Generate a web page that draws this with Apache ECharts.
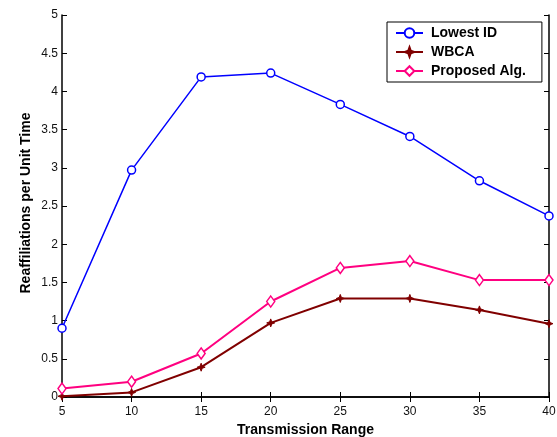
<!DOCTYPE html>
<html>
<head>
<meta charset="utf-8">
<script src="https://cdn.jsdelivr.net/npm/echarts@6/dist/echarts.min.js"></script>
<style>
  html, body { margin: 0; padding: 0; background: #fff; }
  #chart { width: 557px; height: 437px; }
</style>
</head>
<body>
<div id="chart"></div>
<script>
// Transmission range values on the x axis
const ranges = [5, 10, 15, 20, 25, 30, 35, 40];

// Reaffiliations per unit time for each clustering scheme
const lowestId = [0.90, 2.97, 4.19, 4.24, 3.83, 3.41, 2.83, 2.37];
const wbca     = [0.01, 0.06, 0.39, 0.97, 1.29, 1.29, 1.14, 0.96];
const proposed = [0.11, 0.20, 0.57, 1.25, 1.69, 1.78, 1.53, 1.53];

const seriesNames = ['Lowest ID', 'WBCA', 'Proposed Alg.'];

const FONT = '"Liberation Sans", Arial, Helvetica, sans-serif';
const AXIS_COLOR = '#000';

function pairs(values) {
  return ranges.map((x, i) => [x, values[i]]);
}

const starPath = 'path://M0,-6 L1.6,-1.6 L6,0 L1.6,1.6 L0,6 L-1.6,1.6 L-6,0 L-1.6,-1.6 Z';

const chart = echarts.init(document.getElementById('chart'), null, { renderer: 'canvas' });

const baseAxisLine = { show: true, lineStyle: { color: AXIS_COLOR, width: 1.5 } };
const tickInside = { show: true, inside: true, length: 5, lineStyle: { color: AXIS_COLOR, width: 1 } };

chart.setOption({
  animation: false,
  backgroundColor: '#fff',
  grid: { left: 62, right: 8, top: 15, bottom: 40, containLabel: false, outerBoundsMode: 'none' },
  xAxis: [
    {
      type: 'value', min: 5, max: 40, interval: 5, position: 'bottom',
      axisLine: baseAxisLine, axisTick: tickInside, splitLine: { show: false },
      axisLabel: { color: '#111', fontFamily: FONT, fontSize: 12, margin: 9 },
      name: 'Transmission Range', nameLocation: 'middle', nameGap: 26,
      nameTextStyle: { color: '#000', fontFamily: FONT, fontSize: 14, fontWeight: 'bold' }
    },
    {
      type: 'value', min: 5, max: 40, interval: 5, position: 'top',
      axisLine: baseAxisLine, axisTick: tickInside, splitLine: { show: false },
      axisLabel: { show: false }
    }
  ],
  yAxis: [
    {
      type: 'value', min: 0, max: 5, interval: 0.5, position: 'left',
      axisLine: baseAxisLine, axisTick: tickInside, splitLine: { show: false },
      axisLabel: { color: '#111', fontFamily: FONT, fontSize: 12, margin: 4 }
    },
    {
      type: 'value', min: 0, max: 5, interval: 0.5, position: 'right',
      axisLine: baseAxisLine, axisTick: tickInside, splitLine: { show: false },
      axisLabel: { show: false }
    }
  ],
  legend: {
    orient: 'vertical',
    left: 387, top: 22,
    data: seriesNames,
    backgroundColor: '#fff',
    borderColor: '#000', borderWidth: 1,
    padding: [4, 16, 4, 8],
    itemWidth: 27, itemHeight: 12, itemGap: 5,
    textStyle: { color: '#000', fontFamily: FONT, fontSize: 14, fontWeight: 'bold', padding: [0, 0, 0, 3] }
  },
  graphic: [
    {
      type: 'text',
      x: 26, y: 203,
      rotation: Math.PI / 2,
      style: {
        text: 'Reaffiliations per Unit Time',
        fill: '#000',
        font: 'bold 14px ' + FONT,
        align: 'center', verticalAlign: 'middle'
      }
    }
  ],
  series: [
    {
      name: seriesNames[0], type: 'line', data: pairs(lowestId),
      color: '#0000ff',
      lineStyle: { color: '#0000ff', width: 1.5 },
      symbol: 'circle', symbolSize: 8,
      itemStyle: { color: '#fff', borderColor: '#0000ff', borderWidth: 1.5 },
      emphasis: { disabled: true }, z: 3
    },
    {
      name: seriesNames[1], type: 'line', data: pairs(wbca),
      color: '#800000',
      lineStyle: { color: '#800000', width: 2 },
      symbol: starPath, symbolSize: 8,
      itemStyle: { color: '#800000', borderColor: '#800000', borderWidth: 1 },
      emphasis: { disabled: true }, z: 3
    },
    {
      name: seriesNames[2], type: 'line', data: pairs(proposed),
      color: '#ff0080',
      lineStyle: { color: '#ff0080', width: 2 },
      symbol: 'diamond', symbolSize: [8, 11],
      itemStyle: { color: '#fff', borderColor: '#ff0080', borderWidth: 1.5 },
      emphasis: { disabled: true }, z: 3
    }
  ]
});
</script>
</body>
</html>
